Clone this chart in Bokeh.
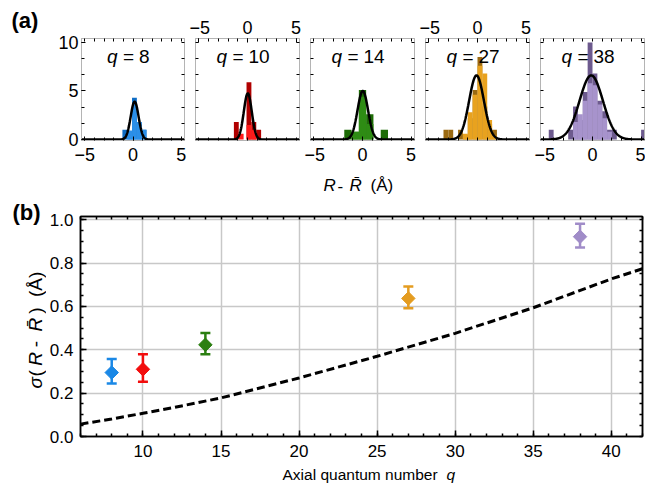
import numpy as np
from bokeh.plotting import figure
from bokeh.models import Range1d, LinearAxis, FixedTicker, Grid
from bokeh.layouts import row, column
from bokeh.embed import file_html
from bokeh.resources import INLINE
from bokeh.core.properties import value

FONT = "Liberation Sans"

# ---------------- data: panel (a) histograms ----------------
q_values = [8, 10, 14, 27, 38]
light_colors = ["#2b8fe8", "#ff1a1a", "#2e8c14", "#e8a21f", "#a793cc"]
dark_colors = ["#0e6cc4", "#b00000", "#1d6b06", "#9b6a12", "#6d5a8e"]

bin_width = [0.5, 0.5, 0.75, 0.5, 0.5]
bin_centers = [
    [-0.85, -0.35, 0.15, 0.65, 1.15],
    [-1.15, -0.65, 0.15, 0.65, 1.15],
    [-1.5, -0.75, 0.0, 0.75, 2.25],
    [-3.25, -2.75, -1.75, -1.25, -0.75, -0.25, 0.25, 0.75, 1.25, 1.75],
    [-4.25, -2.25, -1.75, -1.25, -0.75, -0.25, 0.25, 0.75, 1.25, 1.75, 2.25, 5.25],
]
counts_dark = [
    [1.0, 0.9, 4.3, 1.8, 1.0],
    [1.8, 0.0, 5.9, 1.8, 1.0],
    [1.0, 0.8, 5.1, 2.6, 1.0],
    [1.0, 1.0, 1.0, 0.5, 2.2, 5.1, 8.5, 3.4, 1.6, 1.0],
    [1.0, 1.0, 3.4, 2.0, 4.9, 10.0, 6.8, 4.0, 2.9, 1.0, 1.0, 1.0],
]
counts_light = [
    [0.0, 0.9, 4.0, 1.8, 1.0],
    [0.0, 0.6, 1.5, 1.0, 0.0],
    [0.0, 0.8, 4.4, 1.6, 0.0],
    [0.0, 0.0, 0.0, 0.6, 2.8, 4.6, 7.6, 6.8, 2.0, 0.4],
    [0.0, 0.0, 1.8, 2.6, 4.0, 5.8, 5.6, 3.6, 2.2, 0.8, 0.0, 0.0],
]
# Gaussian fit parameters
fit_amp = [3.9, 4.75, 5.0, 6.6, 6.6]
fit_mu = [0.17, 0.03, 0.03, -0.1, -0.13]
fit_sigma = [0.41, 0.41, 0.54, 0.76, 1.2]

hist_xticks = [-5, 0, 5]
hist_xtick_labels = ["\u22125", "0", "5"]
hist_yticks = [0, 5, 10]
hist_ytick_labels = ["0", "5", "10"]

# ---------------- data: panel (b) ----------------
sigma_meas = [0.295, 0.31, 0.423, 0.637, 0.922]
sigma_lo = [0.245, 0.253, 0.38, 0.592, 0.872]
sigma_hi = [0.357, 0.38, 0.478, 0.692, 0.982]
point_colors = ["#1a88e6", "#f20d0d", "#2b7f11", "#e49c20", "#a08cc8"]

theory_q = [6, 8, 10, 12, 15, 20, 25, 30, 35, 40, 42]
theory_sigma = [0.057, 0.081, 0.107, 0.134, 0.178, 0.27, 0.37, 0.476, 0.594, 0.727, 0.774]

b_xticks = [10, 15, 20, 25, 30, 35, 40]
b_yticks = [0.0, 0.2, 0.4, 0.6, 0.8, 1.0]
b_ytick_labels = ["0.0", "0.2", "0.4", "0.6", "0.8", "1.0"]

FRAME_GREY = "#b4b4b4"


def text_fig(w, h, xr, yr, top=0, bottom=0):
    """A bare figure used to hold free texts (ranges chosen in page pixels)."""
    p = figure(width=w, height=h, x_range=Range1d(*xr), y_range=Range1d(*yr),
               output_backend="svg", toolbar_location=None, title=None,
               x_axis_location=None, y_axis_location=None,
               min_border_left=0, min_border_right=0,
               min_border_top=top, min_border_bottom=bottom)
    p.grid.visible = False
    p.outline_line_color = None
    return p


def put(p, x, y, txt, size, style="normal", angle=0.0, align="left"):
    p.text(x=[x], y=[y], text=[txt], angle=angle, text_align=align,
           text_baseline="middle", text_font=value(FONT), text_font_size=size,
           text_font_style=style, text_color="black")


def panel_tag(p, x, txt, standoff):
    """Panel letter drawn as the single tick label of a bare axis above the frame."""
    ax = LinearAxis(ticker=FixedTicker(ticks=[x], minor_ticks=[]), major_label_overrides={x: txt})
    ax.axis_line_color = None
    ax.major_tick_line_color = None
    ax.minor_tick_line_color = None
    ax.major_tick_in = 0
    ax.major_tick_out = 0
    ax.major_label_text_font = FONT
    ax.major_label_text_font_size = "22px"
    ax.major_label_text_font_style = "bold"
    ax.major_label_text_color = "black"
    ax.major_label_standoff = standoff
    p.add_layout(ax, "above")


def labelled_axis(ticker, overrides, size, standoff, color, tick_in, minor_in, width=1):
    ax = LinearAxis(ticker=ticker, major_label_overrides=overrides)
    ax.axis_line_color = color
    ax.axis_line_width = width
    ax.major_tick_in = tick_in
    ax.major_tick_out = 0
    ax.minor_tick_in = minor_in
    ax.minor_tick_out = 0
    ax.major_tick_line_color = "black"
    ax.minor_tick_line_color = "black"
    ax.major_tick_line_width = width
    ax.minor_tick_line_width = width
    ax.major_label_text_font = FONT
    ax.major_label_text_color = "black"
    ax.major_label_text_font_size = size
    ax.major_label_standoff = standoff
    return ax


def plain_axis(positions, color, tick_in, width=1):
    # only (label-less) minor ticks
    ax = LinearAxis(ticker=FixedTicker(ticks=[], minor_ticks=positions))
    ax.axis_line_color = color
    ax.axis_line_width = width
    ax.major_tick_in = 0
    ax.major_tick_out = 0
    ax.minor_tick_in = tick_in
    ax.minor_tick_out = 0
    ax.minor_tick_line_color = "black"
    ax.minor_tick_line_width = width
    ax.major_label_standoff = 0
    return ax


hx_all = list(range(-5, 6))
hy_all = [0, 5 / 3, 10 / 3, 5, 20 / 3, 25 / 3, 10]


def hist_fig(i):
    left = 25 if i == 0 else 6
    right = 1 if i == 4 else 5
    w = left + 104 + right
    p = figure(width=w, height=170, x_range=Range1d(-5.35, 5.35), y_range=Range1d(-0.1, 10.4),
               output_backend="svg", toolbar_location=None, title=None,
               x_axis_location=None, y_axis_location=None,
               min_border_left=left, min_border_right=right,
               min_border_top=38, min_border_bottom=30)
    p.grid.visible = False
    p.outline_line_color = FRAME_GREY

    xt = FixedTicker(ticks=hist_xticks, minor_ticks=hx_all)
    xover = dict(zip(hist_xticks, hist_xtick_labels))
    if i in (0, 2, 4):
        p.add_layout(labelled_axis(xt, xover, "18px", 7, FRAME_GREY, 4, 3), "below")
        p.add_layout(plain_axis(hx_all, FRAME_GREY, 3), "above")
    else:
        p.add_layout(plain_axis(hx_all, FRAME_GREY, 3), "below")
        p.add_layout(labelled_axis(xt, xover, "18px", 5, FRAME_GREY, 4, 3), "above")
    if i == 0:
        yt = FixedTicker(ticks=hist_yticks, minor_ticks=hy_all)
        p.add_layout(labelled_axis(yt, dict(zip(hist_yticks, hist_ytick_labels)), "18px", 3,
                                   FRAME_GREY, 4, 3), "left")
    else:
        p.add_layout(plain_axis(hy_all, FRAME_GREY, 3), "left")
    p.add_layout(plain_axis(hy_all, FRAME_GREY, 3), "right")

    p.vbar(x=bin_centers[i], top=counts_dark[i], bottom=0, width=bin_width[i],
           fill_color=dark_colors[i], line_color=None)
    p.vbar(x=bin_centers[i], top=counts_light[i], bottom=0, width=bin_width[i],
           fill_color=light_colors[i], line_color=None)

    xs = np.linspace(-5.35, 5.35, 400)
    ys = fit_amp[i] * np.exp(-0.5 * ((xs - fit_mu[i]) / fit_sigma[i]) ** 2)
    p.line(xs, ys, line_color="black", line_width=2.5)

    shift = 5 * (2 - len(str(q_values[i])))
    for txt, off, st in [("q", -31, "italic"), ("=", -15, "normal"), (str(q_values[i]), 1, "normal")]:
        p.text(x=[0], y=[8.5], text=[txt], x_offset=off + shift, text_align="left",
               text_baseline="middle", text_font=value(FONT), text_font_size="19px",
               text_font_style=st, text_color="black")
    return p


# (a) tag column: frame aligned with histogram frames (page y 38..140)
fa = text_fig(55, 170, (0, 55), (140, 38), top=38, bottom=30)
fa.line(x=[0, 1], y=[140, 140], line_alpha=0)
panel_tag(fa, 24.5, "(a)", 6)
figs = [hist_fig(i) for i in range(5)]
row_a = row(fa, *figs)

# shared x label of panel (a)   (page y 170..196)
strip1 = text_fig(645, 26, (0, 645), (196, 170))
for txt, xx, st in [("R", 323, "italic"), ("-", 337, "normal"), ("R\u0304", 349, "italic"),
                    ("(\u00c5)", 370, "normal")]:
    put(strip1, xx, 185, txt, "17px", st)

# ---------------- panel (b) ----------------   (page y 196..466, frame 212..436)
fb = text_fig(46, 270, (0, 46), (436, 212), top=16, bottom=30)
panel_tag(fb, 26, "(b)", -8)
for txt, yy, st in [("\u03c3", 387, "italic"), ("(", 375, "normal"), ("R", 364, "italic"),
                    ("-", 345, "normal"), ("R\u0304", 329, "italic"), (")", 311, "normal"),
                    ("(\u00c5)", 294, "normal")]:
    put(fb, 35, yy, txt, "19px", st, angle=np.pi / 2)

pb = figure(width=599, height=270, x_range=Range1d(6, 42), y_range=Range1d(0, 1.015),
            output_backend="svg", toolbar_location=None, title=None,
            x_axis_location=None, y_axis_location=None,
            min_border_left=34, min_border_right=3, min_border_top=16, min_border_bottom=30)
pb.outline_line_color = "black"
pb.outline_line_width = 1.5

bx_minor = list(range(6, 43))
by_minor = [k * 0.05 for k in range(0, 21)]
bxt = FixedTicker(ticks=b_xticks, minor_ticks=bx_minor)
byt = FixedTicker(ticks=b_yticks, minor_ticks=by_minor)
pb.add_layout(labelled_axis(bxt, {}, "17px", 8, "black", 6, 3, 1.5), "below")
pb.add_layout(plain_axis(bx_minor, "black", 3, 1.5), "above")
pb.add_layout(labelled_axis(byt, dict(zip(b_yticks, b_ytick_labels)), "17px", 7, "black", 6, 3, 1.5),
              "left")
pb.add_layout(plain_axis(by_minor, "black", 3, 1.5), "right")

pb.add_layout(Grid(dimension=0, ticker=FixedTicker(ticks=b_xticks), grid_line_color="#c8c8c8",
                   grid_line_width=1.5))
pb.add_layout(Grid(dimension=1, ticker=FixedTicker(ticks=[0.2, 0.4, 0.6, 0.8, 1.0]),
                   grid_line_color="#c8c8c8", grid_line_width=1.5))

pb.line(theory_q, theory_sigma, line_color="black", line_width=3, line_dash="8 4")

pb.segment(x0=q_values, x1=q_values, y0=sigma_lo, y1=sigma_hi, line_color=point_colors, line_width=2.5)
pb.scatter(x=q_values, y=sigma_lo, marker="dash", size=10, line_color=point_colors, line_width=2.5)
pb.scatter(x=q_values, y=sigma_hi, marker="dash", size=10, line_color=point_colors, line_width=2.5)
pb.scatter(x=q_values, y=sigma_meas, marker="square", size=9.5, angle=np.pi / 4,
           fill_color=point_colors, line_color=point_colors)

row_b = row(fb, pb)

# x label of panel (b)   (page y 466..490)
strip2 = text_fig(645, 24, (0, 645), (490, 466))
put(strip2, 282, 474, "Axial quantum number", "15.5px")
put(strip2, 446, 474, "q", "15.5px", "italic")

layout = column(row_a, strip1, row_b, strip2)
open("out.html", "w").write(file_html(layout, INLINE))
